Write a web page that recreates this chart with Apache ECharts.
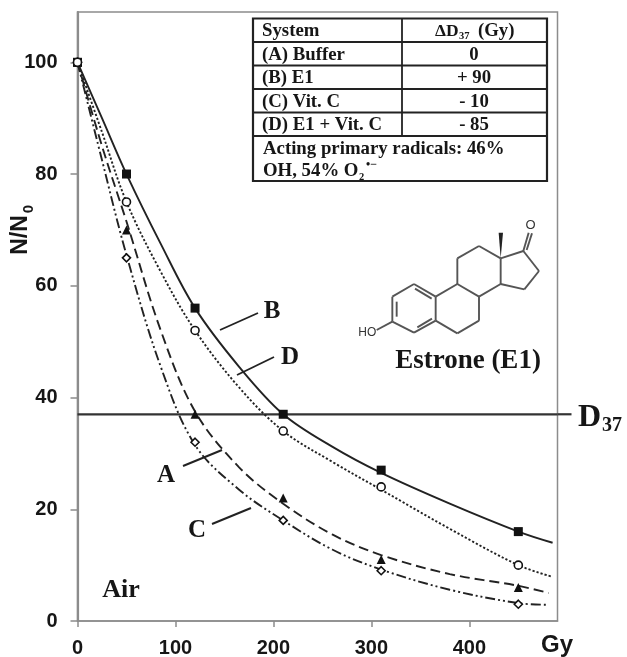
<!DOCTYPE html>
<html><head><meta charset="utf-8">
<style>html,body{margin:0;padding:0;background:#fff}#c{width:627px;height:657px}</style>
<script src="https://cdn.jsdelivr.net/npm/echarts@6/dist/echarts.min.js"></script>
</head><body><div id="c"></div>
<script>
// Measured points
const doses = [0, 50, 120, 210, 310, 450];
const pointsA = [100, 70, 37, 22, 11, 6];
const pointsB = [100, 80, 56, 37, 27, 16];
const pointsC = [100, 65, 32, 18, 9, 3];
const pointsD = [100, 75, 52, 34, 24, 10];
// Fitted curves
const curveDoses = [0, 25, 50, 85, 120, 165, 210, 260, 310, 380, 450];
const curveA = [100, 85, 71.5, 52, 37.5, 27.5, 21, 15.5, 11.8, 8.4, 6.3];
const curveB = [100, 90, 80, 67.5, 56, 45.5, 37, 31.2, 26.5, 21, 16];
const curveC = [100, 82.5, 65.5, 45.5, 31.5, 23.5, 18, 12.8, 9.2, 5.6, 3.2];
const curveD = [100, 87.5, 75, 62.5, 52, 41.8, 34, 28.5, 23.5, 16.5, 10];
const curveEndA = [481, 5];
const curveEndB = [485, 14];
const curveEndC = [481, 2.9];
const curveEndD = [485, 7.9];
const d37Value = 37;
const xMax = 490;
const xTicks = [0, 100, 200, 300, 400];
const yTicks = [0, 20, 40, 60, 80, 100];
const tableRows = [['(A) Buffer', '0'], ['(B) E1', '+ 90'], ['(C) Vit. C', '- 10'], ['(D) E1 + Vit. C', '- 85']];

const SERIF = '"Liberation Serif","DejaVu Serif",serif';
const SANS = '"Liberation Sans",Arial,sans-serif';
const INK = '#161616', FRAME = '#8c8c8c';

const zip = (xs, ys, end) => xs.map((x, i) => [x, ys[i]]).concat(end ? [end] : []);
function txt(text, x, y, size, extra) {
  return Object.assign({type: 'text', z: 20, x, y, style: Object.assign({
    text, fill: INK, font: 'bold ' + size + 'px ' + SERIF, textAlign: 'left', textVerticalAlign: 'middle'
  }, (extra && extra.style) || {})}, extra && extra.rotation !== undefined ? {rotation: extra.rotation} : {});
}
function seg(x1, y1, x2, y2, w, color) {
  return {type: 'line', z: 15, shape: {x1, y1, x2, y2}, style: {stroke: color || '#222', lineWidth: w || 1.9}};
}

// Table
const tLeft = 253, tRight = 547, tMid = 402, rowYs = [18.5, 42, 65.5, 89, 112.5, 136, 181];
const T = 18.8;
const graphics = [];
graphics.push({type: 'rect', z: 14, shape: {x: tLeft, y: rowYs[0], width: tRight - tLeft, height: rowYs[6] - rowYs[0]}, style: {fill: '#fff', stroke: '#222', lineWidth: 2.2}});
rowYs.slice(1, 6).forEach(y => graphics.push(seg(tLeft, y, tRight, y, 1.8)));
graphics.push(seg(tMid, rowYs[0], tMid, rowYs[5], 1.8));
graphics.push(txt('System', 262, 31, T));
graphics.push(txt('ΔD', 435, 31, 17.5));
graphics.push(txt('37', 459, 36, 10.5));
graphics.push(txt('(Gy)', 478, 31, T));
tableRows.forEach((r, i) => {
  const y = (rowYs[i + 1] + rowYs[i + 2]) / 2 + 1;
  graphics.push(txt(r[0], 262, y, T));
  graphics.push(txt(r[1], 474, y, T, {style: {textAlign: 'center'}}));
});
graphics.push(txt('Acting primary radicals: 46%', 263, 149, T));
graphics.push(txt('OH, 54% O', 263, 171, T));
graphics.push(txt('2', 359, 177, 10.5));
graphics.push(txt('•−', 366, 165, 12));

// Annotations
graphics.push(txt('B', 272, 312, 25, {style: {textAlign: 'center'}}));
graphics.push(txt('D', 290, 358, 25, {style: {textAlign: 'center'}}));
graphics.push(txt('A', 166, 476, 25, {style: {textAlign: 'center'}}));
graphics.push(txt('C', 197, 531, 25, {style: {textAlign: 'center'}}));
graphics.push(txt('Air', 121, 590, 26, {style: {textAlign: 'center'}}));
graphics.push(txt('D', 578, 418, 32));
graphics.push(txt('37', 602, 426, 20));
graphics.push(txt('Estrone (E1)', 468, 361, 27, {style: {textAlign: 'center'}}));
graphics.push(seg(220, 330, 258, 313));
graphics.push(seg(237, 375, 274, 357));
graphics.push(seg(183, 466, 222, 450));
graphics.push(seg(212, 524, 251, 508));
graphics.push(txt('Gy', 557, 645, 24, {style: {textAlign: 'center', font: 'bold 24px ' + SANS}}));
graphics.push(txt('N/N', 21, 235, 23, {rotation: Math.PI / 2, style: {textAlign: 'center', font: 'bold 23px ' + SANS}}));
graphics.push(txt('0', 29, 209, 15, {rotation: Math.PI / 2, style: {textAlign: 'center', font: 'bold 15px ' + SANS}}));

// Molecule
const mx = v => v / 3 + 340, my = v => v / 3 + 190;
const bonds = [
  [157,395,157,320],[157,320,222,282],[222,282,287,320],[287,320,287,392],[287,392,222,428],[222,428,157,395],
  [170,380,170,335],[225,296,275,326],[232,412,276,386],
  [157,395,110,420],
  [287,320,352,282],[352,282,417,320],[417,320,417,392],[417,392,352,430],[352,430,287,392],
  [352,282,352,205],[352,205,417,168],[417,168,482,205],[482,205,482,282],[482,282,417,320],
  [482,205,550,183],[550,183,597,243],[597,243,553,298],[553,298,482,282],
  [550,183,566,128],[560,180,576,130]
];
bonds.forEach(b => graphics.push(seg(mx(b[0]), my(b[1]), mx(b[2]), my(b[3]), 1.9, '#555')));
graphics.push({type: 'polygon', z: 15, shape: {points: [[mx(482), my(205)], [mx(476), my(128)], [mx(489), my(128)]]}, style: {fill: '#222'}});
graphics.push(txt('HO', mx(82), my(428), 12, {style: {textAlign: 'center', font: '12px ' + SANS, fill: '#333'}}));
graphics.push(txt('O', mx(572), my(106), 13, {style: {textAlign: 'center', font: '13px ' + SANS, fill: '#333'}}));

function curve(name, data, type) {
  return {name, type: 'line', data, smooth: 0.35, symbol: 'none', clip: false, z: 3, silent: true,
    lineStyle: {color: '#222', width: 1.9, type, cap: 'butt'}};
}
function pts(name, values, symbol, size, filled) {
  return {name, type: 'scatter', data: zip(doses, values), symbol, symbolSize: size, z: 5, clip: false, silent: true,
    itemStyle: {color: filled ? '#111' : '#fff', borderColor: '#111', borderWidth: filled ? 0 : 1.6, opacity: 1}};
}

const chart = echarts.init(document.getElementById('c'), null, {renderer: 'canvas'});
chart.setOption({
  backgroundColor: '#fff',
  animation: false,
  grid: {left: 77.5, right: 69.5, top: 12, bottom: 36, outerBoundsMode: 'none', show: true, borderColor: FRAME, borderWidth: 1.5, backgroundColor: '#fff'},
  xAxis: {
    type: 'value', min: 0, max: xMax, splitLine: {show: false},
    axisLine: {onZero: false, lineStyle: {color: FRAME, width: 1.5}},
    axisTick: {customValues: xTicks, length: 6, lineStyle: {color: FRAME, width: 1.5}},
    axisLabel: {customValues: xTicks, margin: 17, color: INK, fontFamily: SANS, fontWeight: 'bold', fontSize: 20}
  },
  yAxis: {
    type: 'value', min: 0, max: 109, splitLine: {show: false},
    axisLine: {onZero: false, lineStyle: {color: FRAME, width: 2.2}},
    axisTick: {customValues: yTicks, length: 7, lineStyle: {color: FRAME, width: 1.5}},
    axisLabel: {customValues: yTicks, margin: 20, color: INK, fontFamily: SANS, fontWeight: 'bold', fontSize: 20}
  },
  series: [
    {name: 'D37', type: 'line', data: [[0, d37Value], [xMax, d37Value]], symbol: 'none', z: 2, silent: true, lineStyle: {color: '#333', width: 2.2}},
    curve('A', zip(curveDoses, curveA, curveEndA), [10, 5]),
    curve('B', zip(curveDoses, curveB, curveEndB), 'solid'),
    curve('C', zip(curveDoses, curveC, curveEndC), [10, 3, 2, 3, 2, 3]),
    curve('D', zip(curveDoses, curveD, curveEndD), [2.2, 2]),
    pts('B points', pointsB, 'rect', 9, true),
    pts('A points', pointsA, 'triangle', 9, true),
    pts('C points', pointsC, 'diamond', 8, false),
    pts('D points', pointsD, 'circle', 8, false)
  ]
});
// The D37 rule runs a little past the frame, towards its label.
const d37 = chart.convertToPixel({gridIndex: 0}, [xMax, d37Value]);
graphics.push({type: 'line', z: 3, shape: {x1: d37[0], y1: d37[1], x2: 571.5, y2: d37[1]}, style: {stroke: '#333', lineWidth: 2.2}});
chart.setOption({graphic: {elements: graphics}});
</script></body></html>
